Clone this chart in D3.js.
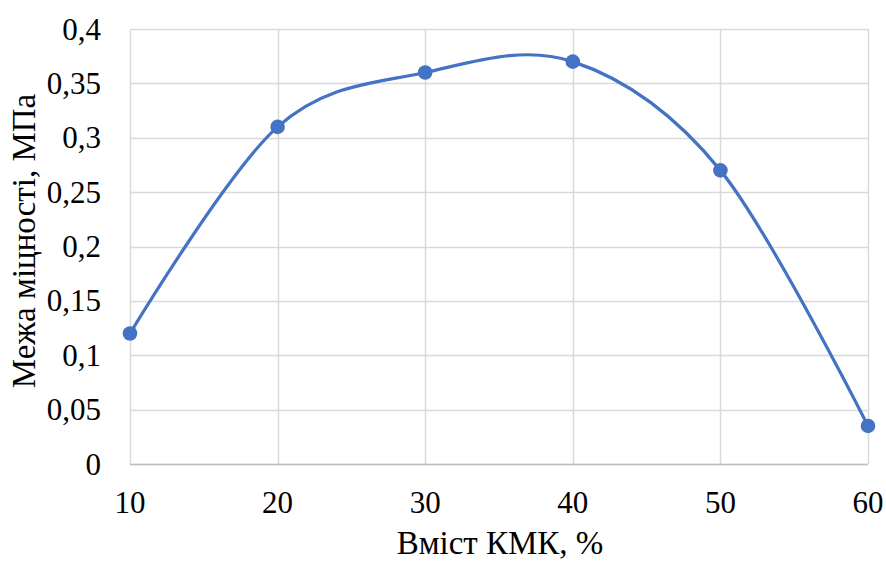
<!DOCTYPE html>
<html>
<head>
<meta charset="utf-8">
<script src="https://cdn.jsdelivr.net/npm/d3@7"></script>
<style>
  html, body { margin: 0; padding: 0; background: #fff; }
  svg { display: block; }
</style>
</head>
<body>
<svg id="chart" width="886" height="561"></svg>
<script>
// Strength limit versus KMK content
const kmkContent = [10, 20, 30, 40, 50, 60];
const strength = [0.12, 0.31, 0.36, 0.37, 0.27, 0.035];
const xTicks = [10, 20, 30, 40, 50, 60];
const yTicks = [0, 0.05, 0.1, 0.15, 0.2, 0.25, 0.3, 0.35, 0.4];
const xTitle = "Вміст КМК, %";
const yTitle = "Межа міцності, МПа";

const FONT = '"Liberation Serif"';

const svg = d3.select("#chart");
const margin = { left: 130, right: 18, top: 29, bottom: 97 };
const W = 886, H = 561;

const x = d3.scaleLinear().domain([10, 60]).range([margin.left, W - margin.right]);
const y = d3.scaleLinear().domain([0, 0.4]).range([H - margin.bottom, margin.top]);

const fmt = v => String(+v.toFixed(2)).replace(".", ",");

// horizontal grid
svg.append("g")
  .selectAll("line").data(yTicks).join("line")
  .attr("x1", x(10)).attr("x2", x(60))
  .attr("y1", d => Math.round(y(d)) + 0.5).attr("y2", d => Math.round(y(d)) + 0.5)
  .attr("stroke", "#d9d9d9").attr("stroke-width", 1.5);

// vertical grid
svg.append("g")
  .selectAll("line").data(xTicks).join("line")
  .attr("x1", d => Math.round(x(d)) + 0.5).attr("x2", d => Math.round(x(d)) + 0.5)
  .attr("y1", y(0.4)).attr("y2", y(0))
  .attr("stroke", "#d9d9d9").attr("stroke-width", 1.5);

// bottom axis line
svg.append("line")
  .attr("x1", x(10)).attr("x2", x(60))
  .attr("y1", Math.round(y(0)) + 0.5).attr("y2", Math.round(y(0)) + 0.5)
  .attr("stroke", "#bfbfbf").attr("stroke-width", 1.5);

function label(sel, size) {
  return sel.style("font-family", FONT)
    .style("font-size", size + "px").attr("fill", "#000");
}

// y tick labels
svg.append("g")
  .selectAll("text").data(yTicks).join("text")
  .call(label, 31)
  .attr("x", 101).attr("y", d => y(d))
  .attr("dy", "0.34em")
  .attr("text-anchor", "end")
  .text(fmt);

// x tick labels
svg.append("g")
  .selectAll("text").data(xTicks).join("text")
  .call(label, 31)
  .attr("x", d => x(d)).attr("y", 513)
  .attr("text-anchor", "middle")
  .text(d => d);

// axis titles
svg.append("text")
  .call(label, 33)
  .attr("x", 500).attr("y", 554)
  .attr("text-anchor", "middle")
  .text(xTitle);

svg.append("text")
  .call(label, 33)
  .attr("transform", "translate(35, 241) rotate(-90)")
  .attr("text-anchor", "middle")
  .text(yTitle);

// smoothed series line
const pts = kmkContent.map((k, i) => [k, strength[i]]);
const line = d3.line()
  .x(d => x(d[0])).y(d => y(d[1]))
  .curve(d3.curveCardinal.tension(0));

svg.append("path")
  .datum(pts)
  .attr("d", line)
  .attr("fill", "none")
  .attr("stroke", "#4472c4")
  .attr("stroke-width", 3.2)
  .attr("stroke-linecap", "round");

// markers
svg.append("g")
  .selectAll("circle").data(pts).join("circle")
  .attr("cx", d => x(d[0])).attr("cy", d => y(d[1]))
  .attr("r", 7.3)
  .attr("fill", "#4472c4");
</script>
</body>
</html>
